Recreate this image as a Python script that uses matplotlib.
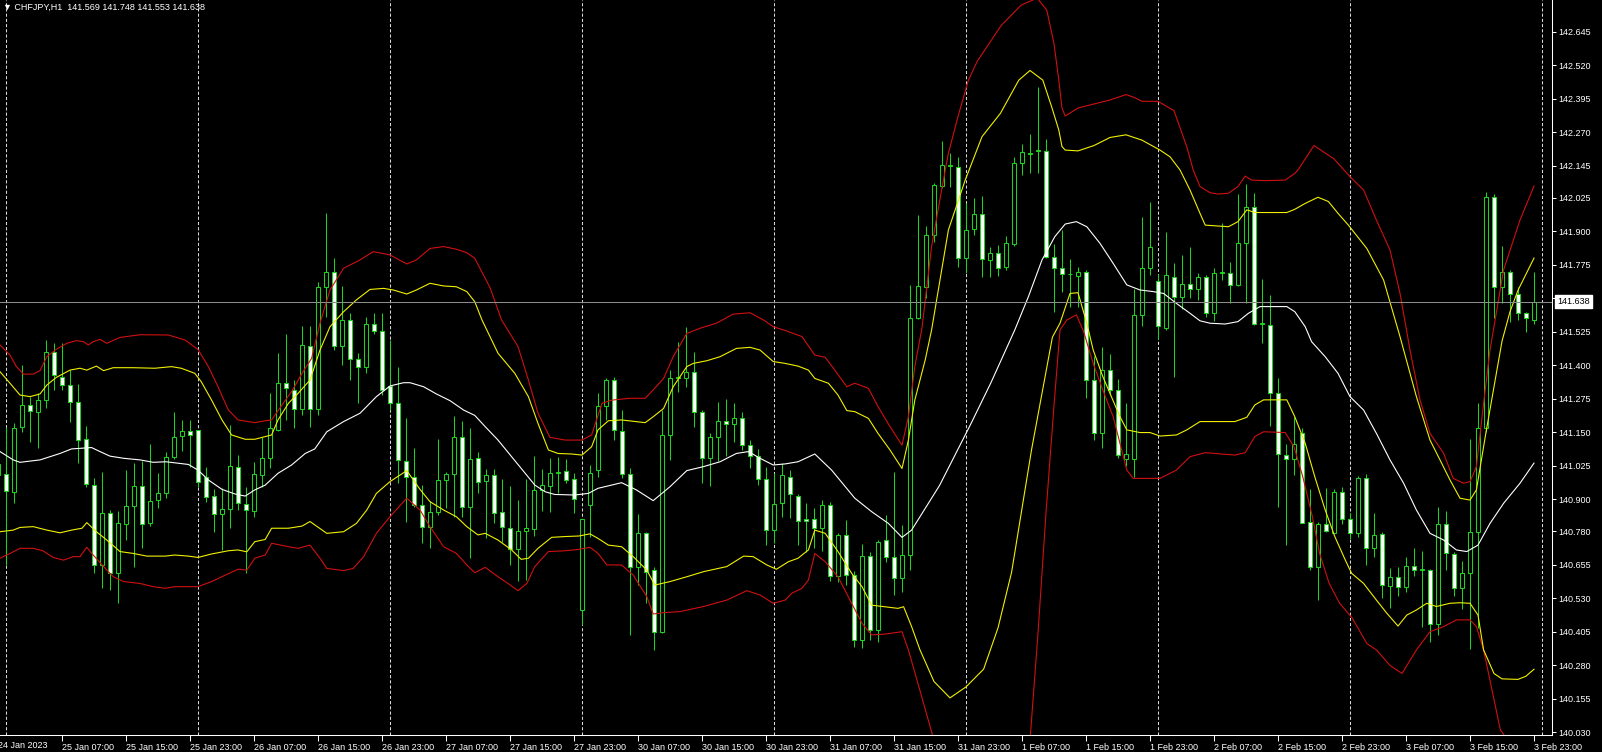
import matplotlib
matplotlib.use("Agg")
import matplotlib.pyplot as plt
import matplotlib.transforms as mtransforms

plt.rcParams['font.family'] = ['Liberation Sans', 'DejaVu Sans']

# CHFJPY H1 candles, bar 0 = 24 Jan 23:00 ... bar 192 = 3 Feb 23:00
opens = [
    140.99, 140.994, 140.928, 141.171, 141.251, 141.227, 141.27, 141.451, 141.358, 141.325,
    141.264, 141.124, 140.952, 140.655, 140.848, 140.626, 140.807, 140.876, 140.951, 140.81,
    140.897, 140.922, 141.057, 141.136, 141.155, 141.158, 140.984, 140.912, 140.844, 140.862,
    141.022, 140.882, 140.857, 140.991, 141.055, 141.159, 141.333, 141.308, 141.236, 141.472,
    141.236, 141.691, 141.747, 141.472, 141.569, 141.424, 141.392, 141.554, 141.528, 141.323,
    141.258, 141.043, 140.984, 140.879, 140.795, 140.854, 140.972, 140.993, 141.131, 140.872,
    141.053, 140.97, 140.991, 140.851, 140.792, 140.713, 140.781, 140.788, 140.935, 140.95,
    140.997, 141.007, 140.974, 140.487, 140.879, 141.009, 141.248, 141.345, 141.156, 140.994,
    140.649, 140.773, 140.636, 140.406, 141.14, 141.351, 141.351, 141.376, 141.227, 141.053,
    141.134, 141.193, 141.18, 141.202, 141.103, 141.062, 140.975, 140.785, 140.885, 140.984,
    140.912, 140.825, 140.825, 140.792, 140.879, 140.614, 140.767, 140.617, 140.375, 140.688,
    140.412, 140.748, 140.686, 140.605, 140.692, 141.575, 141.693, 141.886, 142.069, 142.143,
    142.141, 141.799, 141.907, 141.963, 141.793, 141.818, 141.768, 141.853, 142.154, 142.19,
    142.2, 142.2, 141.805, 141.762, 141.741, 141.733, 141.749, 141.345, 141.149, 141.382,
    141.308, 141.05, 141.05, 141.588, 141.762, 141.716, 141.541, 141.731, 141.653, 141.702,
    141.683, 141.728, 141.596, 141.746, 141.746, 141.70, 141.858, 141.989, 141.554, 141.552,
    141.295, 141.065, 141.049, 141.146, 140.816, 140.646, 140.808, 140.775, 140.928, 140.825,
    140.775, 140.978, 140.717, 140.769, 140.576, 140.611, 140.571, 140.651, 140.638, 140.636,
    140.435, 140.807, 140.696, 140.568, 140.626, 140.779, 141.165, 142.029, 141.693, 141.749,
    141.666, 141.595, 141.569,
]
highs = [
    141.05, 141.171, 141.183, 141.401, 141.283, 141.295, 141.494, 141.484, 141.482, 141.382,
    141.33, 141.173, 140.978, 141.003, 140.86, 140.857, 141.009, 141.034, 141.044, 141.106,
    140.997, 141.078, 141.226, 141.196, 141.196, 141.16, 141.022, 140.937, 140.941, 141.177,
    141.065, 140.947, 141.04, 141.131, 141.298, 141.447, 141.517, 141.345, 141.547, 141.547,
    141.712, 141.97, 141.799, 141.696, 141.594, 141.445, 141.581, 141.596, 141.596, 141.494,
    141.395, 141.202, 141.09, 140.953, 140.895, 141.124, 141.003, 141.211, 141.192, 141.165,
    141.078, 141.012, 141.012, 140.975, 140.95, 140.897, 140.975, 141.062, 141.012, 141.053,
    141.057, 141.049, 140.999, 140.825, 141.028, 141.295, 141.351, 141.355, 141.233, 141.016,
    140.845, 140.779, 140.646, 141.233, 141.382, 141.488, 141.542, 141.451, 141.233, 141.149,
    141.264, 141.273, 141.258, 141.227, 141.121, 141.086, 141.019, 140.997, 141.034, 141.009,
    140.92, 140.887, 140.866, 140.897, 140.89, 140.775, 140.823, 140.634, 140.733, 140.705,
    140.748, 140.841, 141.003, 140.804, 141.70, 141.961, 141.92, 142.079, 142.238, 142.191,
    142.176, 142.004, 142.023, 142.032, 141.84, 141.849, 141.882, 142.176, 142.226, 142.263,
    142.44, 142.243, 141.853, 141.905, 141.797, 141.768, 141.755, 141.435, 141.467, 141.442,
    141.348, 141.258, 141.683, 141.952, 142.01, 141.741, 141.899, 141.783, 141.812, 141.843,
    141.746, 141.737, 141.762, 141.93, 141.787, 142.039, 142.076, 142.042, 141.721, 141.662,
    141.351, 141.106, 141.208, 141.165, 140.937, 140.816, 140.941, 140.937, 140.944, 140.85,
    140.987, 140.994, 140.848, 140.779, 140.642, 140.648, 140.686, 140.717, 140.708, 140.64,
    140.87, 140.858, 140.705, 140.671, 141.124, 141.258, 142.048, 142.039, 141.845, 141.756,
    141.693, 141.60, 141.748,
]
lows = [
    140.97, 140.655, 140.885, 141.152, 141.115, 141.09, 141.239, 141.308, 141.308, 141.19,
    141.037, 140.945, 140.624, 140.568, 140.561, 140.514, 140.748, 140.649, 140.72, 140.80,
    140.866, 140.904, 141.05, 141.081, 141.022, 140.947, 140.891, 140.779, 140.711, 140.792,
    140.86, 140.626, 140.835, 140.947, 141.015, 141.153, 141.196, 141.165, 141.214, 141.171,
    141.215, 141.581, 141.457, 141.401, 141.345, 141.258, 141.37, 141.517, 141.289, 141.233,
    140.962, 140.817, 140.873, 140.736, 140.717, 140.841, 140.866, 140.835, 140.835, 140.68,
    140.922, 140.754, 140.81, 140.742, 140.655, 140.596, 140.599, 140.763, 140.858, 140.854,
    140.925, 140.962, 140.85, 140.431, 140.761, 140.984, 141.196, 141.121, 140.978, 140.394,
    140.58, 140.512, 140.338, 140.40, 141.047, 141.302, 141.32, 141.171, 140.96, 140.95,
    141.044, 141.062, 141.115, 141.084, 141.016, 140.953, 140.729, 140.738, 140.835, 140.829,
    140.729, 140.704, 140.717, 140.708, 140.596, 140.592, 140.58, 140.35, 140.344, 140.375,
    140.369, 140.667, 140.543, 140.555, 140.636, 141.571, 141.65, 141.86, 142.06, 142.064,
    141.766, 141.743, 141.886, 141.731, 141.728, 141.733, 141.755, 141.845, 142.11, 142.119,
    142.119, 141.80, 141.60, 141.675, 141.619, 141.619, 141.277, 141.121, 141.09, 141.289,
    141.053, 141.024, 140.984, 141.547, 141.737, 141.497, 141.531, 141.358, 141.609, 141.65,
    141.643, 141.581, 141.566, 141.718, 141.631, 141.694, 141.631, 141.55, 141.484, 141.173,
    140.872, 140.729, 140.991, 140.81, 140.636, 140.524, 140.778, 140.773, 140.808, 140.75,
    140.76, 140.655, 140.686, 140.53, 140.493, 140.539, 140.555, 140.614, 140.422, 140.369,
    140.394, 140.636, 140.539, 140.489, 140.342, 140.418, 141.15, 141.575, 141.634, 141.563,
    141.568, 141.523, 141.553,
]
closes = [
    141.03, 140.932, 141.165, 141.251, 141.231, 141.27, 141.448, 141.364, 141.326, 141.263,
    141.121, 140.957, 140.655, 140.848, 140.624, 140.813, 140.876, 140.951, 140.808, 140.895,
    140.922, 141.057, 141.134, 141.155, 141.14, 140.966, 140.91, 140.845, 140.862, 141.024,
    140.885, 140.86, 140.994, 141.053, 141.165, 141.333, 141.314, 141.236, 141.476, 141.236,
    141.691, 141.747, 141.473, 141.569, 141.422, 141.392, 141.554, 141.529, 141.308, 141.258,
    141.047, 140.982, 140.879, 140.798, 140.854, 140.972, 140.993, 141.131, 140.87, 141.049,
    140.966, 140.991, 140.85, 140.795, 140.713, 140.782, 140.792, 140.935, 140.953, 140.997,
    141.0, 140.972, 140.9, 140.825, 140.999, 141.248, 141.345, 141.159, 140.994, 140.649,
    140.773, 140.63, 140.406, 141.14, 141.351, 141.355, 141.376, 141.227, 141.053, 141.134,
    141.193, 141.18, 141.202, 141.103, 141.062, 140.975, 140.785, 140.882, 140.991, 140.92,
    140.82, 140.819, 140.792, 140.879, 140.614, 140.767, 140.617, 140.375, 140.688, 140.412,
    140.742, 140.686, 140.605, 140.692, 141.575, 141.696, 141.886, 142.073, 142.147, 142.147,
    141.799, 141.905, 141.963, 141.795, 141.818, 141.762, 141.855, 142.154, 142.195, 142.193,
    142.204, 141.805, 141.762, 141.741, 141.742, 141.749, 141.345, 141.149, 141.382, 141.308,
    141.065, 141.069, 141.588, 141.762, 141.843, 141.547, 141.736, 141.656, 141.702, 141.683,
    141.728, 141.596, 141.746, 141.748, 141.70, 141.858, 141.989, 141.554, 141.556, 141.295,
    141.069, 141.049, 141.106, 140.813, 140.646, 140.808, 140.783, 140.928, 140.825, 140.775,
    140.978, 140.717, 140.767, 140.58, 140.611, 140.571, 140.651, 140.636, 140.640, 140.435,
    140.807, 140.698, 140.568, 140.626, 140.779, 141.165, 142.029, 141.693, 141.749, 141.666,
    141.595, 141.577, 141.638,
]

# indicator lines: (bar position, price)
mid_band = [
    (0.25, 141.078), (1.9, 141.047), (2.75, 141.038), (5.25, 141.047), (7.75, 141.071),
    (9.2, 141.088), (11.7, 141.093), (12.75, 141.078), (14.0, 141.061), (15.7, 141.053),
    (17.75, 141.047), (19.4, 141.038), (21.0, 141.040), (23.8, 141.030), (25.0, 141.009),
    (26.3, 140.972), (28.0, 140.937), (29.6, 140.920), (30.9, 140.912), (32.1, 140.935),
    (33.4, 140.953), (35.0, 140.997), (36.7, 141.028), (38.4, 141.071), (39.6, 141.088),
    (41.1, 141.152), (43.2, 141.190), (45.25, 141.221), (47.3, 141.283), (49.0, 141.323),
    (50.7, 141.335), (51.5, 141.335), (53.2, 141.320), (54.8, 141.293), (56.5, 141.268),
    (58.2, 141.233), (59.6, 141.213), (60.9, 141.171), (62.5, 141.121), (64.2, 141.059),
    (65.9, 140.997), (67.1, 140.953), (68.4, 140.928), (69.6, 140.918), (72.1, 140.916),
    (73.8, 140.922), (75.0, 140.941), (76.7, 140.953), (77.95, 140.962), (79.8, 140.935),
    (81.9, 140.895), (84.0, 140.947), (86.1, 141.007), (88.2, 141.022), (90.25, 141.040),
    (92.3, 141.071), (93.8, 141.078), (95.25, 141.053), (96.9, 141.028), (98.4, 141.032),
    (100.0, 141.040), (102.1, 141.069), (104.2, 141.009), (107.1, 140.904), (109.2, 140.854),
    (111.3, 140.810), (113.0, 140.758), (114.2, 140.785), (115.9, 140.866), (117.7, 140.952),
    (121.6, 141.181), (124.1, 141.334), (127.1, 141.532), (128.8, 141.656), (130.5, 141.793),
    (132.1, 141.880), (133.4, 141.927), (134.8, 141.936), (136.1, 141.917), (137.75, 141.855),
    (139.4, 141.780), (141.1, 141.700), (142.75, 141.681), (144.4, 141.675), (145.7, 141.668),
    (147.3, 141.631), (149.0, 141.594), (150.25, 141.566), (151.5, 141.557), (153.4, 141.554),
    (155.0, 141.563), (156.3, 141.594), (157.75, 141.619), (161.1, 141.619), (162.1, 141.600),
    (163.4, 141.544), (164.2, 141.488), (165.9, 141.432), (167.5, 141.370), (169.0, 141.283),
    (170.7, 141.233), (172.3, 141.146), (174.0, 141.047), (175.7, 140.960), (177.3, 140.860),
    (179.0, 140.773), (180.7, 140.748), (182.3, 140.711), (183.6, 140.705), (185.0, 140.729),
    (186.5, 140.810), (188.2, 140.885), (190.25, 140.960), (192.0, 141.035),
]
yellow_upper = [
    (0.25, 141.376), (1.5, 141.333), (2.75, 141.289), (4.0, 141.283), (5.25, 141.293),
    (6.1, 141.326), (7.3, 141.355), (9.0, 141.382), (10.25, 141.389), (11.1, 141.382),
    (12.3, 141.397), (13.2, 141.380), (14.4, 141.391), (16.9, 141.391), (19.6, 141.389),
    (21.7, 141.395), (22.9, 141.389), (24.6, 141.370), (25.4, 141.339), (26.7, 141.270),
    (28.0, 141.196), (29.2, 141.140), (30.9, 141.124), (32.1, 141.124), (33.4, 141.134),
    (34.2, 141.140), (35.0, 141.196), (36.3, 141.258), (37.5, 141.295), (39.0, 141.345),
    (40.25, 141.457), (41.5, 141.544), (43.2, 141.600), (44.8, 141.644), (46.5, 141.683),
    (48.2, 141.687), (49.4, 141.681), (51.1, 141.666), (52.3, 141.681), (54.0, 141.706),
    (55.7, 141.696), (57.3, 141.693), (58.6, 141.675), (59.6, 141.637), (60.5, 141.569),
    (62.5, 141.445), (64.6, 141.370), (66.3, 141.283), (67.5, 141.183), (68.8, 141.084),
    (70.0, 141.071), (71.7, 141.069), (73.0, 141.065), (74.2, 141.096), (75.0, 141.159),
    (76.3, 141.193), (77.95, 141.196), (80.9, 141.186), (81.9, 141.208), (83.2, 141.239),
    (84.4, 141.320), (86.1, 141.395), (86.9, 141.407), (88.6, 141.417), (90.25, 141.432),
    (92.3, 141.463), (94.0, 141.467), (95.25, 141.457), (96.9, 141.414), (98.4, 141.407),
    (100.0, 141.397), (101.3, 141.382), (102.1, 141.351), (103.8, 141.333), (105.0, 141.289),
    (106.1, 141.231), (107.1, 141.227), (108.8, 141.202), (110.0, 141.146), (111.5, 141.084),
    (113.0, 141.015), (113.8, 141.121), (114.6, 141.270), (115.9, 141.420), (116.7, 141.532),
    (118.8, 141.905), (120.9, 142.091), (123.0, 142.253), (125.3, 142.340), (127.6, 142.464),
    (129.0, 142.500), (130.6, 142.464), (131.7, 142.365), (132.6, 142.278), (133.0, 142.216),
    (133.4, 142.203), (135.0, 142.200), (137.0, 142.220), (139.0, 142.250), (141.0, 142.260),
    (143.0, 142.240), (145.25, 142.203), (146.5, 142.178), (147.75, 142.129), (149.0, 142.054),
    (150.25, 141.967), (150.9, 141.923), (153.8, 141.917), (155.0, 141.936), (156.1, 141.980),
    (157.1, 141.970), (161.1, 141.970), (162.1, 141.982), (163.4, 142.004), (165.0, 142.027),
    (166.3, 142.011), (167.5, 141.967), (168.8, 141.923), (171.1, 141.836), (173.2, 141.718),
    (175.25, 141.507), (177.3, 141.283), (179.0, 141.121), (180.25, 141.047), (181.5, 140.972),
    (182.75, 140.904), (184.0, 140.897), (184.8, 140.935), (186.0, 141.150), (187.0, 141.320),
    (188.0, 141.490), (189.0, 141.600), (190.0, 141.680), (191.0, 141.740), (192.0, 141.800),
]
yellow_lower = [
    (0.25, 140.779), (1.9, 140.785), (2.75, 140.795), (4.4, 140.798), (6.1, 140.785),
    (7.75, 140.775), (9.2, 140.785), (10.5, 140.792), (11.1, 140.813), (12.3, 140.779),
    (13.6, 140.748), (15.25, 140.705), (16.9, 140.698), (18.6, 140.688), (20.9, 140.688),
    (22.1, 140.692), (23.8, 140.688), (25.0, 140.683), (26.7, 140.696), (28.8, 140.708),
    (30.0, 140.711), (31.1, 140.704), (32.1, 140.742), (33.4, 140.750), (34.2, 140.792),
    (36.3, 140.792), (38.0, 140.800), (39.0, 140.817), (41.1, 140.773), (43.2, 140.779),
    (44.8, 140.810), (46.1, 140.860), (47.3, 140.922), (49.0, 140.966), (51.1, 141.007),
    (52.75, 140.937), (54.0, 140.891), (55.7, 140.860), (57.3, 140.835), (58.6, 140.798),
    (60.0, 140.767), (60.9, 140.773), (62.5, 140.748), (64.2, 140.711), (65.4, 140.676),
    (66.3, 140.680), (67.5, 140.717), (69.2, 140.758), (70.9, 140.761), (72.6, 140.763),
    (74.0, 140.771), (75.0, 140.754), (76.3, 140.729), (77.95, 140.723), (79.4, 140.686),
    (81.1, 140.636), (82.1, 140.580), (84.0, 140.593), (86.1, 140.611), (88.2, 140.630),
    (91.1, 140.649), (93.2, 140.688), (94.4, 140.686), (96.1, 140.655), (97.3, 140.639),
    (98.8, 140.667), (100.0, 140.680), (101.3, 140.711), (102.1, 140.785), (103.4, 140.773),
    (105.0, 140.705), (106.7, 140.624), (108.0, 140.574), (109.2, 140.505), (110.9, 140.499),
    (112.5, 140.493), (113.2, 140.499), (114.2, 140.425), (115.25, 140.338), (117.0, 140.220),
    (119.0, 140.159), (121.0, 140.200), (123.2, 140.266), (125.0, 140.420), (126.7, 140.628),
    (129.2, 141.086), (131.8, 141.505), (132.75, 141.557), (134.0, 141.668), (135.0, 141.671),
    (136.1, 141.557), (136.9, 141.457), (138.1, 141.358), (140.25, 141.208), (141.1, 141.159),
    (142.75, 141.149), (144.0, 141.149), (145.25, 141.136), (147.3, 141.140), (148.6, 141.159),
    (150.25, 141.190), (151.5, 141.190), (154.6, 141.190), (156.1, 141.206), (157.1, 141.252),
    (158.2, 141.271), (161.1, 141.271), (162.1, 141.208), (163.4, 141.109), (164.6, 140.984),
    (165.9, 140.860), (167.1, 140.761), (168.4, 140.674), (169.2, 140.624), (170.7, 140.586),
    (172.3, 140.524), (173.6, 140.475), (175.0, 140.427), (176.1, 140.468), (177.3, 140.487),
    (178.6, 140.512), (179.8, 140.500), (181.5, 140.512), (182.75, 140.514), (184.0, 140.512),
    (185.0, 140.468), (185.7, 140.338), (187.0, 140.250), (188.0, 140.230), (190.0, 140.228),
    (191.0, 140.240), (192.0, 140.266),
]
red_upper = [
    (0.25, 141.476), (1.5, 141.438), (2.3, 141.395), (3.2, 141.367), (4.4, 141.367),
    (5.25, 141.380), (6.1, 141.432), (7.3, 141.460), (8.6, 141.482), (9.8, 141.492),
    (10.7, 141.488), (11.3, 141.476), (11.9, 141.488), (12.75, 141.497), (13.6, 141.482),
    (15.25, 141.504), (17.75, 141.514), (21.3, 141.513), (23.4, 141.494), (25.0, 141.459),
    (26.3, 141.395), (27.5, 141.320), (28.8, 141.233), (30.0, 141.196), (32.1, 141.186),
    (33.4, 141.193), (34.2, 141.196), (35.5, 141.252), (36.7, 141.302), (38.0, 141.370),
    (39.2, 141.426), (40.25, 141.557), (41.5, 141.681), (43.2, 141.762), (45.25, 141.793),
    (46.9, 141.824), (49.0, 141.812), (51.1, 141.778), (52.3, 141.793), (54.0, 141.836),
    (55.7, 141.843), (57.3, 141.833), (58.6, 141.820), (59.6, 141.799), (61.5, 141.690),
    (62.95, 141.569), (65.0, 141.470), (66.3, 141.345), (67.5, 141.221), (69.0, 141.131),
    (70.9, 141.121), (73.0, 141.121), (74.2, 141.140), (75.5, 141.258), (76.7, 141.270),
    (79.0, 141.277), (80.9, 141.277), (81.9, 141.308), (83.2, 141.351), (84.4, 141.432),
    (86.1, 141.519), (87.75, 141.538), (89.8, 141.557), (91.9, 141.591), (94.0, 141.596),
    (95.7, 141.569), (96.9, 141.544), (98.4, 141.530), (100.5, 141.507), (102.1, 141.438),
    (103.4, 141.430), (104.6, 141.382), (106.1, 141.320), (107.1, 141.333), (108.8, 141.314),
    (110.0, 141.246), (111.5, 141.171), (113.0, 141.102), (113.8, 141.208), (114.6, 141.395),
    (115.5, 141.540), (116.7, 141.843), (117.95, 142.054), (118.8, 142.191), (120.0, 142.328),
    (121.3, 142.464), (122.4, 142.534), (125.4, 142.668), (127.9, 142.744), (129.9, 142.770),
    (131.1, 142.725), (132.0, 142.600), (132.6, 142.464), (133.0, 142.360), (133.4, 142.330),
    (135.0, 142.360), (137.0, 142.375), (139.0, 142.390), (141.0, 142.410), (142.0, 142.400),
    (143.0, 142.385), (145.0, 142.385), (147.0, 142.350), (148.6, 142.215), (149.4, 142.129),
    (150.25, 142.067), (151.5, 142.044), (152.5, 142.039), (153.8, 142.042), (155.0, 142.067),
    (155.9, 142.106), (156.7, 142.091), (158.4, 142.089), (160.9, 142.091), (162.1, 142.116),
    (162.5, 142.129), (164.5, 142.220), (167.0, 142.170), (169.0, 142.104), (170.7, 142.054),
    (172.3, 141.942), (174.0, 141.830), (175.25, 141.669), (176.5, 141.457), (177.75, 141.271),
    (179.0, 141.146), (180.7, 141.072), (181.9, 140.978), (183.2, 140.960), (184.0, 140.966),
    (184.8, 141.022), (185.7, 141.258), (186.5, 141.457), (188.2, 141.756), (190.25, 141.942),
    (192.0, 142.069),
]
red_lower = [
    (0.25, 140.680), (1.5, 140.698), (2.75, 140.717), (4.4, 140.717), (5.6, 140.708),
    (6.9, 140.683), (8.2, 140.673), (9.4, 140.686), (10.25, 140.686), (11.1, 140.721),
    (11.9, 140.692), (13.2, 140.649), (14.4, 140.611), (15.7, 140.593), (17.75, 140.586),
    (19.4, 140.574), (20.9, 140.568), (22.1, 140.574), (25.0, 140.574), (26.7, 140.593),
    (28.4, 140.617), (30.0, 140.639), (31.1, 140.636), (32.1, 140.680), (33.4, 140.692),
    (34.2, 140.736), (36.3, 140.723), (37.5, 140.717), (39.0, 140.729), (40.25, 140.680),
    (41.1, 140.642), (43.2, 140.634), (44.4, 140.642), (45.7, 140.686), (47.3, 140.773),
    (49.0, 140.835), (51.1, 140.904), (52.75, 140.860), (54.0, 140.798), (55.7, 140.723),
    (57.3, 140.698), (58.6, 140.655), (59.6, 140.626), (60.9, 140.646), (62.5, 140.611),
    (63.75, 140.586), (65.0, 140.559), (66.1, 140.586), (67.1, 140.649), (68.8, 140.705),
    (70.9, 140.708), (72.6, 140.713), (74.0, 140.721), (75.0, 140.698), (76.1, 140.655),
    (77.95, 140.655), (79.4, 140.617), (81.1, 140.537), (81.9, 140.472), (83.2, 140.477),
    (85.25, 140.481), (88.2, 140.500), (91.1, 140.524), (93.6, 140.559), (95.25, 140.543),
    (96.9, 140.512), (98.4, 140.524), (99.2, 140.549), (100.5, 140.568), (101.3, 140.599),
    (102.1, 140.698), (103.4, 140.667), (105.0, 140.611), (106.7, 140.512), (108.0, 140.437),
    (109.2, 140.394), (110.9, 140.397), (113.0, 140.406), (113.8, 140.338), (115.4, 140.170),
    (117.0, 140.000), (119.0, 139.800), (122.0, 139.600), (125.0, 139.600), (127.0, 139.750),
    (129.0, 140.000), (130.0, 140.400), (131.0, 140.850), (132.0, 141.250), (132.75, 141.532),
    (133.6, 141.569), (134.8, 141.588), (135.7, 141.526), (136.9, 141.407), (138.1, 141.308),
    (139.4, 141.208), (140.25, 141.109), (141.1, 141.009), (141.9, 140.978), (145.25, 140.978),
    (147.3, 141.009), (149.0, 141.059), (150.9, 141.074), (154.6, 141.065), (155.9, 141.074),
    (157.1, 141.134), (158.2, 141.152), (160.9, 141.149), (162.0, 141.096), (163.1, 140.984),
    (164.3, 140.835), (165.2, 140.698), (166.4, 140.586), (167.7, 140.512), (169.3, 140.456),
    (171.1, 140.362), (172.3, 140.338), (174.0, 140.280), (175.5, 140.250), (177.3, 140.338),
    (179.0, 140.406), (180.7, 140.425), (182.3, 140.450), (184.0, 140.450), (184.8, 140.425),
    (185.7, 140.338), (187.8, 140.039), (190.0, 139.950), (192.0, 139.850),
]

day_start_bars = [1, 25, 49, 73, 97, 121, 145, 169, 193]
time_labels = ["25 Jan 07:00", "25 Jan 15:00", "25 Jan 23:00", "26 Jan 07:00", "26 Jan 15:00",
               "26 Jan 23:00", "27 Jan 07:00", "27 Jan 15:00", "27 Jan 23:00", "30 Jan 07:00",
               "30 Jan 15:00", "30 Jan 23:00", "31 Jan 07:00", "31 Jan 15:00", "31 Jan 23:00",
               "1 Feb 07:00", "1 Feb 15:00", "1 Feb 23:00", "2 Feb 07:00", "2 Feb 15:00",
               "2 Feb 23:00", "3 Feb 07:00", "3 Feb 15:00", "3 Feb 23:00"]
first_label = "24 Jan 2023"
price_labels = ["142.645", "142.520", "142.395", "142.270", "142.145", "142.025", "141.900",
                "141.775", "141.650", "141.525", "141.400", "141.275", "141.150", "141.025",
                "140.900", "140.780", "140.655", "140.530", "140.405", "140.280", "140.155",
                "140.030"]
symbol = "CHFJPY,H1"
last_price = 141.638

GREEN = '#1ed21e'
RED = '#d01010'
YELLOW = '#f0f000'

fig = plt.figure(figsize=(16.02, 7.52), dpi=100, facecolor='black')
ax = fig.add_axes([0, 17.4 / 752, 1552 / 1602, 1 - 17.4 / 752])
ax.set_facecolor('black')
ax.set_xlim(0.25, 194.25)
ax.set_ylim(140.022, 142.763)

# day separators
for g in day_start_bars:
    ax.axvline(g, color='#d8d8d8', lw=0.75, ls=(0, (3, 2)), zorder=1)

# candles
bars = list(range(len(opens)))
ax.vlines(bars, lows, highs, color=GREEN, lw=0.75, zorder=2)
bottoms = [min(o, c) for o, c in zip(opens, closes)]
heights = [max(abs(c - o), 0.0008) for o, c in zip(opens, closes)]
faces = ['white' if c < o else 'black' for o, c in zip(opens, closes)]
ax.bar(bars, heights, bottom=bottoms, width=0.55, color=faces,
       edgecolor=GREEN, linewidth=0.75, zorder=3)

# bands
for band, col in [(red_upper, RED), (red_lower, RED), (yellow_upper, YELLOW),
                  (yellow_lower, YELLOW), (mid_band, 'white')]:
    bx, by = zip(*band)
    ax.plot(bx, by, color=col, lw=0.8, zorder=4)

ax.axhline(last_price, color='#8c8c8c', lw=0.75, zorder=5)

# axes styling
for s in ['top', 'left']:
    ax.spines[s].set_visible(False)
for s in ['right', 'bottom']:
    ax.spines[s].set_color('white')
    ax.spines[s].set_linewidth(0.75)

ax.yaxis.tick_right()
ax.set_yticks([float(p) for p in price_labels])
# the label under the current-price box is hidden in the terminal
ax.set_yticklabels(['' if abs(float(p) - last_price) < 0.03 else p for p in price_labels])
ax.tick_params(axis='y', colors='white', length=3, width=0.75, labelsize=6.5, pad=1.5)

ax.set_xticks(list(range(8, 8 * len(time_labels) + 1, 8)))
ax.set_xticklabels(time_labels)
ax.tick_params(axis='x', colors='white', length=4, width=0.75, labelsize=6.5, pad=2)
for lab in ax.get_xticklabels():
    lab.set_horizontalalignment('left')

tb = mtransforms.blended_transform_factory(ax.transData, ax.transAxes)
ax.text(0, 0, first_label, transform=mtransforms.offset_copy(tb, fig=fig, y=-6, units='dots'),
        ha='left', va='top', color='white', fontsize=6.5, clip_on=False)

# current price box
ty = mtransforms.blended_transform_factory(ax.transAxes, ax.transData)
ax.text(1.0, last_price, f"{last_price:.3f}",
        transform=mtransforms.offset_copy(ty, fig=fig, x=5, units='dots'),
        ha='left', va='center', color='black', fontsize=6.5, clip_on=False, zorder=10,
        bbox=dict(facecolor='white', edgecolor='white', pad=1.6))

# header
fig.text(3 / 1602, 1 - 7 / 752,
         f"\u25bc {symbol}  {opens[-1]:.3f} {highs[-1]:.3f} {lows[-1]:.3f} {closes[-1]:.3f}",
         color='white', fontsize=6.5, va='center', ha='left')

fig.savefig('out.png', dpi=100, facecolor='black')
